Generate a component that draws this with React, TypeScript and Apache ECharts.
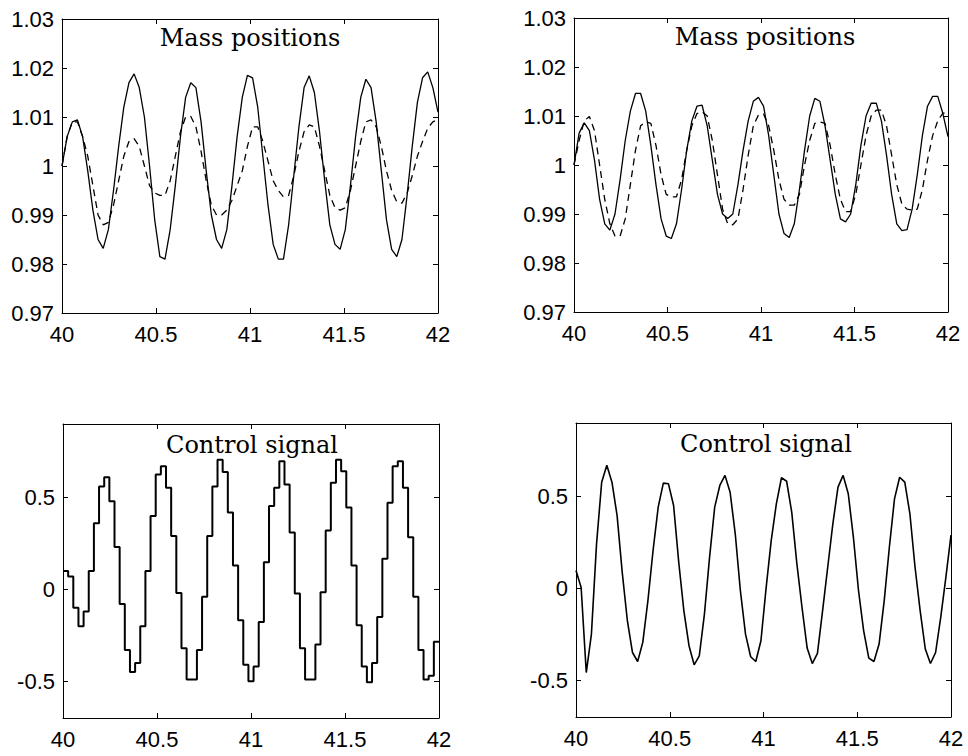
import { useEffect, useRef } from "react";
import * as echarts from "echarts";

// time axis
const T0 = 40;
const T1 = 42;
const SAMPLE_INTERVALS = 73; // sampling intervals in [40, 42]
const xTicks = [40, 40.5, 41, 41.5, 42];
const massTicks = [0.97, 0.98, 0.99, 1, 1.01, 1.02, 1.03];
const controlTicks = [-0.5, 0, 0.5];
const titles = ["Mass positions", "Mass positions", "Control signal", "Control signal"];

// top-left: mass positions (solid / dashed)
const massLeftSolid = [
  1.0, 1.006, 1.009, 1.0094, 1.006, 0.999, 0.991, 0.985, 0.9832, 0.987,
  0.995, 1.004, 1.012, 1.017, 1.0188, 1.016, 1.01, 1.0, 0.989, 0.9815,
  0.981, 0.987, 0.996, 1.006, 1.014, 1.017, 1.016, 1.009, 0.999, 0.99,
  0.985, 0.9832, 0.987, 0.996, 1.006, 1.014, 1.0185, 1.018, 1.012, 1.002,
  0.992, 0.984, 0.981, 0.981, 0.988, 0.998, 1.008, 1.016, 1.0184, 1.015,
  1.007, 0.997, 0.988, 0.984, 0.983, 0.987, 0.996, 1.006, 1.014, 1.0177,
  1.016, 1.009, 0.999, 0.989, 0.983, 0.9815, 0.985, 0.994, 1.004, 1.013,
  1.018, 1.0192, 1.016, 1.011,
];
const massLeftDashed = [
  1.0, 1.006, 1.009, 1.009, 1.006, 1.002, 0.996, 0.99, 0.988, 0.9885,
  0.992, 0.997, 1.002, 1.005, 1.0056, 1.004, 1.0, 0.996, 0.9945, 0.994,
  0.994, 0.997, 1.002, 1.007, 1.01, 1.0101, 1.008, 1.003, 0.997, 0.992,
  0.99, 0.99, 0.991, 0.993, 0.996, 0.999, 1.004, 1.008, 1.008, 1.005,
  1.001, 0.997, 0.995, 0.9937, 0.994, 0.998, 1.003, 1.007, 1.0084, 1.008,
  1.004, 0.999, 0.994, 0.9915, 0.991, 0.9915, 0.995, 1.0, 1.005, 1.009,
  1.0094, 1.008, 1.004, 0.999, 0.995, 0.9927, 0.9924, 0.9945, 0.998, 1.002,
  1.005, 1.0077, 1.009, 1.0095,
];

// top-right: mass positions (solid / dashed)
const massRightSolid = [
  1.0, 1.0065, 1.0086, 1.007, 1.001, 0.993, 0.988, 0.9867, 0.99, 0.997,
  1.005, 1.011, 1.0146, 1.0146, 1.011, 1.004, 0.996, 0.989, 0.9855, 0.985,
  0.988, 0.995, 1.003, 1.009, 1.012, 1.0122, 1.008, 1.001, 0.994, 0.99,
  0.9891, 0.99, 0.996, 1.003, 1.009, 1.013, 1.0138, 1.012, 1.006, 0.998,
  0.99, 0.986, 0.9852, 0.988, 0.995, 1.003, 1.01, 1.0136, 1.013, 1.008,
  1.001, 0.994, 0.989, 0.9884, 0.99, 0.996, 1.004, 1.01, 1.0126, 1.0126,
  1.009, 1.002, 0.994, 0.988, 0.9866, 0.9868, 0.991, 0.998, 1.006, 1.012,
  1.014, 1.014, 1.0105, 1.0058,
];
const massRightDashed = [
  1.0, 1.005, 1.009, 1.0099, 1.007, 1.0, 0.993, 0.988, 0.9855, 0.9855,
  0.989, 0.996, 1.003, 1.008, 1.0088, 1.0085, 1.004, 0.998, 0.994, 0.9935,
  0.9935, 0.997, 1.003, 1.008, 1.0105, 1.0109, 1.01, 1.005, 0.998, 0.991,
  0.988, 0.9878, 0.989, 0.995, 1.002, 1.008, 1.0102, 1.0104, 1.008, 1.003,
  0.997, 0.993, 0.9918, 0.9918, 0.994, 1.0, 1.005, 1.0085, 1.0088, 1.0085,
  1.004, 0.998, 0.993, 0.9905, 0.9905, 0.994, 1.0, 1.006, 1.01, 1.0112,
  1.0112, 1.008, 1.002, 0.996, 0.992, 0.991, 0.9908, 0.991, 0.995, 1.001,
  1.006, 1.009, 1.0106, 1.0106,
];

// bottom-left: control signal, zero-order hold levels (one per sample interval)
const controlLeftSteps = [
  0.1, 0.07, -0.1, -0.2, -0.12, 0.1, 0.36, 0.56, 0.61, 0.48,
  0.23, -0.08, -0.33, -0.45, -0.4, -0.2, 0.1, 0.4, 0.625, 0.67,
  0.553, 0.29, -0.02, -0.32, -0.49, -0.49, -0.33, -0.04, 0.29, 0.56,
  0.706, 0.639, 0.418, 0.13, -0.168, -0.41, -0.5, -0.42, -0.177, 0.148,
  0.454, 0.553, 0.697, 0.571, 0.31, -0.023, -0.32, -0.49, -0.49, -0.3,
  -0.015, 0.32, 0.58, 0.706, 0.643, 0.445, 0.13, -0.195, -0.42, -0.505,
  -0.4, -0.15, 0.166, 0.472, 0.67, 0.697, 0.553, 0.283, -0.04, -0.33,
  -0.49, -0.47, -0.285,
];

// bottom-right: control signal
const controlRight = [
  0.097, 0.005, -0.458, -0.249, 0.242, 0.578, 0.67, 0.578, 0.396, 0.087,
  -0.176, -0.349, -0.398, -0.294, -0.067, 0.206, 0.442, 0.573, 0.569, 0.451,
  0.142, -0.122, -0.312, -0.416, -0.367, -0.14, 0.169, 0.442, 0.56, 0.615,
  0.523, 0.297, -0.013, -0.249, -0.372, -0.398, -0.285, 0.0, 0.26, 0.46,
  0.602, 0.583, 0.414, 0.133, -0.104, -0.325, -0.409, -0.354, -0.122, 0.115,
  0.351, 0.551, 0.615, 0.515, 0.278, -0.013, -0.231, -0.38, -0.398, -0.303,
  -0.067, 0.224, 0.487, 0.605, 0.578, 0.406, 0.115, -0.122, -0.33, -0.409,
  -0.349, -0.158, 0.06, 0.29,
];

const sampleTimes = Array.from(
  { length: SAMPLE_INTERVALS + 1 },
  (_, k) => T0 + (k * (T1 - T0)) / SAMPLE_INTERVALS
);

const LABEL_FONT = "Liberation Sans";
const TITLE_FONT = "DejaVu Serif";

const grids = [
  { left: 62, top: 19, width: 376, height: 294 },
  { left: 574, top: 18, width: 374, height: 294 },
  { left: 63, top: 424, width: 376, height: 294 },
  { left: 576, top: 423, width: 375, height: 294 },
];

function fmt(v: number) {
  return String(Number(v.toFixed(2)));
}

export default function App() {
  const ref = useRef<HTMLDivElement>(null);
  useEffect(() => {
    if (!ref.current) return;
    const chart = echarts.init(ref.current, undefined, { renderer: "svg" });

    const xAxes: any[] = [];
    const yAxes: any[] = [];
    grids.forEach((_, i) => {
      const isMass = i < 2;
      const yTicks = isMass ? massTicks : controlTicks;
      const yMin = isMass ? 0.97 : -0.7;
      const yMax = isMass ? 1.03 : 0.9;
      const axisLine = { show: true, onZero: false, lineStyle: { color: "#000", width: 1 } };
      const tick = (vals: number[]) => ({
        show: true,
        inside: true,
        length: 5,
        customValues: vals,
        lineStyle: { color: "#000", width: 1 },
      });
      xAxes.push({
        type: "value",
        gridIndex: i,
        position: "bottom",
        min: T0,
        max: T1,
        axisLine,
        axisTick: tick(xTicks),
        axisLabel: {
          show: true,
          customValues: xTicks,
          formatter: (v: number) => fmt(v),
          color: "#000",
          fontFamily: LABEL_FONT,
          fontSize: 22,
          margin: 10,
          showMinLabel: true,
          showMaxLabel: true,
        },
        splitLine: { show: false },
      });
      xAxes.push({
        type: "value",
        gridIndex: i,
        position: "top",
        min: T0,
        max: T1,
        axisLine,
        axisTick: tick(xTicks),
        axisLabel: { show: false },
        splitLine: { show: false },
      });
      yAxes.push({
        type: "value",
        gridIndex: i,
        position: "left",
        min: yMin,
        max: yMax,
        axisLine,
        axisTick: tick(yTicks),
        axisLabel: {
          show: true,
          customValues: yTicks,
          formatter: (v: number) => fmt(v),
          color: "#000",
          fontFamily: LABEL_FONT,
          fontSize: 22,
          margin: 8,
          showMinLabel: true,
          showMaxLabel: true,
        },
        splitLine: { show: false },
      });
      yAxes.push({
        type: "value",
        gridIndex: i,
        position: "right",
        min: yMin,
        max: yMax,
        axisLine,
        axisTick: tick(yTicks),
        axisLabel: { show: false },
        splitLine: { show: false },
      });
    });

    const toPairs = (vals: number[]) => vals.map((v, k) => [sampleTimes[k], v]);
    const line = (i: number, vals: number[], dashed: boolean, width: number) => ({
      type: "line",
      xAxisIndex: 2 * i,
      yAxisIndex: 2 * i,
      data: toPairs(vals),
      showSymbol: false,
      symbol: "none",
      clip: true,
      lineStyle: { color: "#000", width, type: dashed ? [7, 5] : "solid" },
    });

    const stepData = toPairs(controlLeftSteps);
    stepData.push([T1, controlLeftSteps[controlLeftSteps.length - 1]]);

    const titleCenters = [
      [250, 38],
      [765, 37],
      [252, 445],
      [766, 444],
    ];

    chart.setOption({
      animation: false,
      backgroundColor: "#fff",
      grid: grids.map((g) => ({ ...g, containLabel: false })),
      xAxis: xAxes,
      yAxis: yAxes,
      series: [
        line(0, massLeftSolid, false, 1.3),
        line(0, massLeftDashed, true, 1.3),
        line(1, massRightSolid, false, 1.3),
        line(1, massRightDashed, true, 1.3),
        {
          type: "line",
          xAxisIndex: 4,
          yAxisIndex: 4,
          data: stepData,
          step: "end",
          showSymbol: false,
          symbol: "none",
          lineStyle: { color: "#000", width: 2 },
        },
        line(3, controlRight, false, 1.6),
      ],
      graphic: titles.map((t, i) => ({
        type: "text",
        x: titleCenters[i][0],
        y: titleCenters[i][1],
        z: 100,
        style: {
          text: t,
          fill: "#000",
          font: `24px "${TITLE_FONT}"`,
          align: "center",
          verticalAlign: "middle",
        },
      })),
    });
    return () => chart.dispose();
  }, []);
  return (
    <div
      ref={ref}
      style={{ position: "absolute", left: 0, top: 0, width: 968, height: 756, background: "#fff" }}
    />
  );
}
